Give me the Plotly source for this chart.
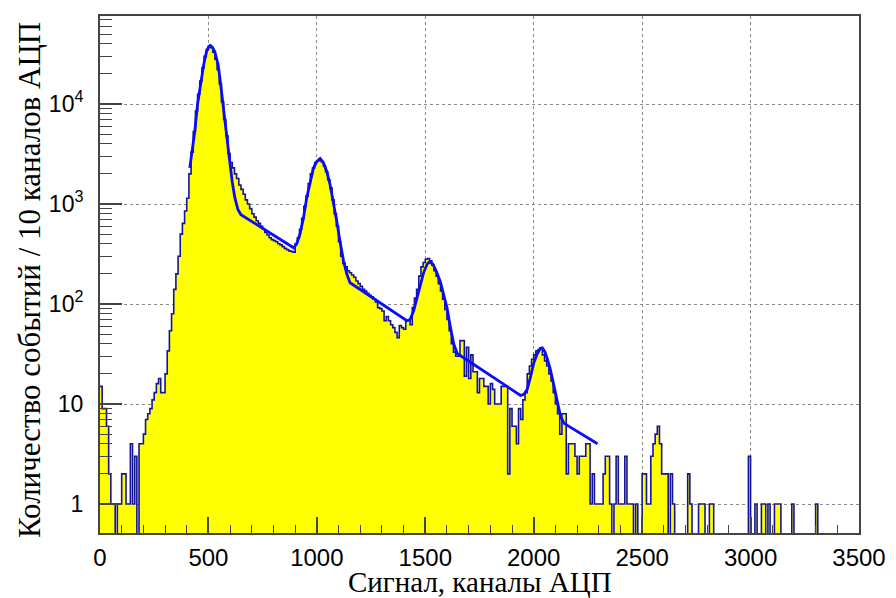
import numpy as np
import plotly.graph_objects as go

# ---------------- data (counts per 10 ADC channels) ----------------
bin_width = 10
x_min, x_max = 0, 3500

counts_0_59 = [15, 9, 9, 6, 2, 1, 1, 0, 1, 1, 2, 2, 1, 1, 4, 1, 3, 0, 4, 4,
               5, 7, 8, 9, 11, 13, 16, 18, 13, 13, 20, 34, 54, 80, 140, 200, 300, 500, 640, 850,
               1140, 2000, 3300, 5300, 8500, 12500, 17000, 23000, 30000, 35000,
               38000, 36500, 33000, 28000, 22000, 16000, 10500, 7000, 4800, 3200]
counts_60_128 = [2600, 2300, 2000, 1800, 1550, 1400, 1250, 1100, 1000, 900,
                 800, 740, 680, 640, 600, 560, 520, 490, 460, 440,
                 430, 420, 400, 390, 375, 360, 350, 340, 335, 330,
                 400, 460, 560, 720, 950, 1200, 1600, 2000, 2300, 2600,
                 2700, 2800, 2650, 2400, 2100, 1750, 1450, 1100, 800, 600,
                 420, 300, 255, 235, 215, 205, 195, 185, 170, 160,
                 150, 140, 135, 128, 122, 118, 112, 105, 92]
counts_129_186 = [90, 85, 68, 75, 68, 62, 58, 52, 46, 61, 58, 56, 68, 68, 62,
                  92, 115, 140, 190, 235, 260, 280, 285, 270, 245, 215, 190, 160, 135, 112,
                  88, 70, 54, 40, 33, 30, 30, 43, 43, 19, 37, 18, 31, 21, 21,
                  13, 18, 18, 15, 15, 10, 16, 14, 10, 10, 10, 15, 15]
counts_187_249 = [15, 2, 9, 6, 6, 4, 9, 7, 11, 13, 20, 24, 28, 31, 34, 35, 36, 31, 27, 24,
                  20, 17, 13, 10, 8, 5, 8, 8, 2, 4, 4, 4, 3, 2, 3, 3, 3, 4, 4, 1,
                  2, 1, 1, 1, 1, 2, 3, 3, 1, 0, 1, 3, 1, 1, 1, 3, 1, 1, 1, 0,
                  1, 0, 0]
counts_250_349 = [2, 2, 1, 1, 3, 4, 5, 6, 4, 2,
                  2, 2, 0, 2, 1, 0, 0, 0, 0, 0,
                  0, 2, 1, 0, 0, 0, 1, 1, 1, 0,
                  0, 1, 1, 0, 0, 0, 0, 0, 0, 0,
                  0, 0, 0, 0, 0, 0, 0, 0, 0, 3,
                  0, 0, 1, 0, 0, 1, 1, 0, 1, 0,
                  0, 1, 1, 1, 0, 0, 0, 0, 0, 1,
                  0, 0, 0, 0, 0, 0, 0, 0, 0, 0,
                  1, 0, 0, 0, 0, 0, 0, 0, 0, 0,
                  0, 0, 0, 0, 0, 0, 0, 0, 0, 0]

counts = counts_0_59 + counts_60_128 + counts_129_186 + counts_187_249 + counts_250_349
assert len(counts) == 350, len(counts)

# fit curve (channel, value)
fit_x = [414, 425, 437, 450, 465, 478, 491, 500, 508, 518, 529, 545, 556, 568, 583, 598,
         610, 622, 636, 650, 893, 907, 922, 938, 953, 969, 984, 1000, 1015, 1030, 1046,
         1061, 1076, 1092, 1107, 1123, 1138, 1153, 1415, 1430, 1446, 1462, 1477, 1492,
         1508, 1520, 1535, 1550, 1570, 1585, 1600, 1615, 1631, 1647, 1939, 1955, 1970,
         1986, 2001, 2017, 2030, 2040, 2052, 2063, 2075, 2086, 2098, 2109, 2124, 2140, 2294]
fit_y = [2300, 3400, 5300, 10000, 16700, 24600, 33400, 37000, 38500, 37000, 33400, 24600,
         16000, 10000, 5300, 2700, 1650, 1150, 880, 780, 365, 400, 500, 720, 1140, 1680,
         2280, 2670, 2850, 2600, 2100, 1560, 1060, 670, 420, 270, 200, 163, 68, 70, 85,
         115, 150, 205, 250, 265, 250, 215, 165, 125, 92, 60, 40, 32, 12.2, 12.5, 14,
         19, 26, 32, 36, 36.5, 33, 28, 23, 18, 13.5, 10.5, 7.5, 6.4, 4.0]

x_ticks = [0, 500, 1000, 1500, 2000, 2500, 3000, 3500]
y_ticks = [1, 10, 100, 1000, 10000]
y_ticktext = ["1", "10", "10<sup>2</sup>", "10<sup>3</sup>", "10<sup>4</sup>"]
y_minor = [m * d for d in (1, 10, 100, 1000, 10000) for m in range(2, 10)]

x_title = "Сигнал, каналы АЦП"
y_title = "Количество событий / 10 каналов АЦП"

# ---------------- figure ----------------
edges = np.arange(x_min, x_max + bin_width, bin_width)
centers = edges[:-1] + bin_width / 2
vals = np.array(counts, dtype=float)

fig = go.Figure()
fig.add_trace(go.Bar(x=centers, y=np.where(vals > 0, vals, np.nan), width=bin_width,
                     marker=dict(color="#ffff00", line=dict(width=0)),
                     hoverinfo="skip", showlegend=False))
line_y = np.append(np.where(vals > 0, vals, 0.05), vals[-1] if vals[-1] > 0 else 0.05)
fig.add_trace(go.Scatter(x=edges, y=line_y, mode="lines", line_shape="hv",
                         line=dict(color="#14149a", width=1.6), showlegend=False))
fig.add_trace(go.Scatter(x=fit_x, y=fit_y, mode="lines",
                         line=dict(color="#0a0aff", width=2.8), showlegend=False))

axis_col = "#444444"
fig.update_layout(
    width=888, height=590,
    margin=dict(l=92, r=37, t=6, b=65),
    paper_bgcolor="white", plot_bgcolor="white",
    bargap=0,
    font=dict(family="Liberation Sans, Arial, sans-serif", size=23, color="black"),
    xaxis=dict(range=[x_min, x_max], tickmode="array", tickvals=x_ticks,
               ticks="inside", ticklen=16, tickwidth=1.5, tickcolor=axis_col,
               minor=dict(dtick=100, ticks="inside", ticklen=8, tickwidth=1.2, tickcolor=axis_col, showgrid=False),
               showgrid=True, gridcolor="#8a8a8a", griddash="dot", gridwidth=1,
               showline=True, linecolor=axis_col, linewidth=2, mirror=True, zeroline=False,
               ticklabelstandoff=2, tickfont=dict(size=24)),
    yaxis=dict(type="log", range=[-0.29, 4.88], tickmode="array", tickvals=y_ticks,
               ticktext=y_ticktext, ticks="inside", ticklen=22, tickwidth=1.5, tickcolor=axis_col,
               minor=dict(tickmode="array", tickvals=y_minor, ticks="inside", ticklen=12,
                          tickwidth=1.2, tickcolor=axis_col, showgrid=False),
               showgrid=True, gridcolor="#8a8a8a", griddash="dot", gridwidth=1,
               showline=True, linecolor=axis_col, linewidth=2, mirror=True, zeroline=False,
               ticklabelstandoff=10, tickfont=dict(size=23)),
    annotations=[
        dict(text=x_title, xref="paper", yref="paper", x=0.5, y=-0.094,
             xanchor="center", yanchor="middle", showarrow=False,
             font=dict(family="Liberation Serif, Times New Roman, serif", size=29)),
        dict(text=y_title, xref="paper", yref="paper", x=-0.093, y=0.49, textangle=-90,
             xanchor="center", yanchor="middle", showarrow=False,
             font=dict(family="Liberation Serif, Times New Roman, serif", size=31)),
    ],
)

fig.write_html("out.html")
